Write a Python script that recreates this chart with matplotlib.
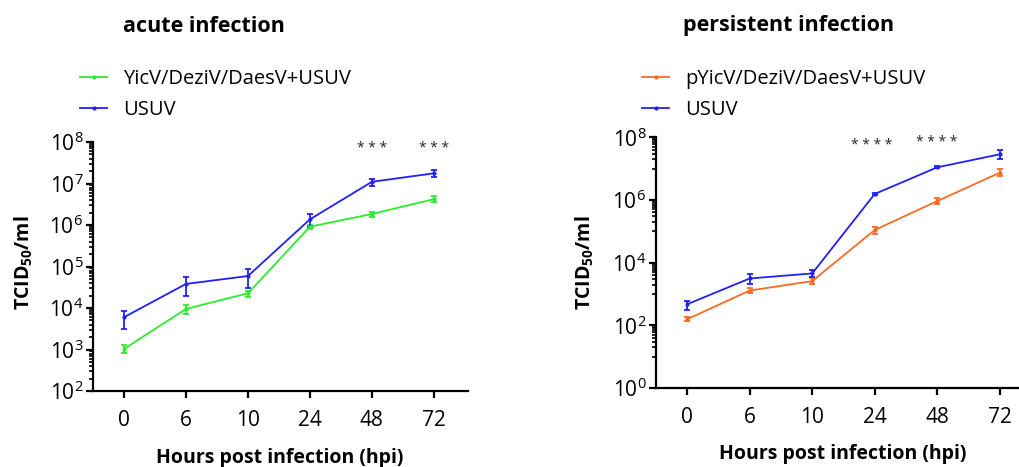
import matplotlib
matplotlib.use('Agg')
import matplotlib.pyplot as plt
import matplotlib.ticker as mticker
from matplotlib.lines import Line2D
import numpy as np

plt.rcParams['font.family'] = ['Open Sans', 'DejaVu Sans']
plt.rcParams['mathtext.fontset'] = 'custom'
plt.rcParams['mathtext.rm'] = 'Open Sans'
plt.rcParams['mathtext.bf'] = 'Open Sans:bold'
plt.rcParams['mathtext.it'] = 'Open Sans:italic'

# time points (categorical)
hpi = ['0', '6', '10', '24', '48', '72']

# acute infection, TCID50/ml
acute_mix = [1030, 9500, 22600, 9.1e5, 1.84e6, 4.2e6]
acute_mix_lo = [810, 7200, 18600, 8.1e5, 1.6e6, 3.55e6]
acute_mix_hi = [1310, 12000, 26300, 1.02e6, 2.1e6, 4.9e6]
acute_usuv = [6000, 38000, 59000, 1.37e6, 1.1e7, 1.76e7]
acute_usuv_lo = [3100, 19500, 30000, 9.2e5, 8.7e6, 1.45e7]
acute_usuv_hi = [8700, 56000, 87000, 1.8e6, 1.3e7, 2.1e7]

# persistent infection, TCID50/ml
pers_mix = [157, 1290, 2570, 1.1e5, 9.2e5, 7.4e6]
pers_mix_lo = [133, 1050, 2040, 8.5e4, 7.4e5, 5.75e6]
pers_mix_hi = [185, 1550, 3160, 1.38e5, 1.12e6, 9.5e6]
pers_usuv = [472, 3130, 4520, 1.55e6, 1.1e7, 2.86e7]
pers_usuv_lo = [316, 2040, 3550, 1.4e6, 1.02e7, 2.0e7]
pers_usuv_hi = [600, 4260, 6030, 1.7e6, 1.18e7, 4.0e7]

# significance marks: (time index, y value, text)
acute_stars = [(4, 6.8e7, '* * *'), (5, 6.8e7, '* * *')]
pers_stars = [(2.95, 5.3e7, '* * * *'), (4, 6.6e7, '* * * *')]

GREEN = '#2bee2b'
BLUE = '#2020ff'
ORANGE = '#ff6a22'

W, H = 1019, 467
fig = plt.figure(figsize=(W / 100, H / 100), dpi=100)


def px(x0, y0, x1, y1):
    # pixel box -> figure fraction [left, bottom, width, height]
    return [x0 / W, 1 - y1 / H, (x1 - x0) / W, (y1 - y0) / H]


def draw(ax, series, ymin, ymax):
    x = np.arange(len(hpi))
    handles = []
    for vals, lo, hi, col, lab in series:
        vals = np.array(vals)
        err = [vals - np.array(lo), np.array(hi) - vals]
        ax.errorbar(x, vals, yerr=err, color=col, lw=1.3, marker='o', ms=2,
                    capsize=2.5, capthick=1.3, elinewidth=1.3)
        handles.append(Line2D([], [], color=col, lw=1.3, marker='o', ms=2, label=lab))
    ax.set_yscale('log')
    ax.set_ylim(ymin, ymax)
    ax.set_xlim(-0.5, 5.55)
    ax.set_xticks(x)
    ax.set_xticklabels(hpi)
    for s in ['top', 'right']:
        ax.spines[s].set_visible(False)
    for s in ['left', 'bottom']:
        ax.spines[s].set_linewidth(1.6)
    ax.tick_params(axis='both', which='major', width=1.6, length=5, labelsize=15)
    ax.tick_params(axis='y', which='minor', width=1.2, length=3)
    ax.tick_params(axis='x', pad=9)
    ax.tick_params(axis='y', pad=2)
    ax.set_facecolor('none')
    return handles


ax1 = fig.add_axes(px(93, 142, 468, 391))
h1 = draw(ax1, [(acute_mix, acute_mix_lo, acute_mix_hi, GREEN, 'YicV/DeziV/DaesV+USUV'),
                (acute_usuv, acute_usuv_lo, acute_usuv_hi, BLUE, 'USUV')], 1e2, 1e8)
ax1.yaxis.set_major_locator(mticker.LogLocator(base=10, numticks=20))
ax1.yaxis.set_minor_locator(mticker.LogLocator(base=10, subs=np.arange(2, 10), numticks=20))
ax1.yaxis.set_minor_formatter(mticker.NullFormatter())

ax2 = fig.add_axes(px(656, 137.3, 1034, 388))
h2 = draw(ax2, [(pers_mix, pers_mix_lo, pers_mix_hi, ORANGE, 'pYicV/DeziV/DaesV+USUV'),
                (pers_usuv, pers_usuv_lo, pers_usuv_hi, BLUE, 'USUV')], 1e0, 1e8)
ax2.yaxis.set_major_locator(mticker.LogLocator(base=100, numticks=20))
ax2.yaxis.set_minor_locator(mticker.LogLocator(base=100, subs=np.arange(10, 100, 10), numticks=20))
ax2.yaxis.set_minor_formatter(mticker.NullFormatter())

# significance stars
for ax, marks in [(ax1, acute_stars), (ax2, pers_stars)]:
    for i, yv, s in marks:
        ax.text(i, yv, s, ha='center', va='center', fontsize=10, color='#222222')

# titles
fig.text(123 / W, 1 - 26 / H, 'acute infection', fontsize=15.5, fontweight='bold',
         ha='left', va='center')
fig.text(683 / W, 1 - 26 / H, 'persistent infection', fontsize=15.5, fontweight='bold',
         ha='left', va='center')

# legends
for hs, x0 in [(h1, 80), (h2, 642)]:
    fig.legend(handles=hs, loc='upper left', bbox_to_anchor=(x0 / W, 1 - 69 / H),
               frameon=False, fontsize=14.5, handlelength=1.35, handletextpad=0.8,
               labelspacing=0.55, borderpad=0, borderaxespad=0)

# axis labels
ylab = r'TCID$_{\mathbf{50}}$/ml'
fig.text(23 / W, 1 - 263 / H, ylab, rotation=90, fontsize=14, fontweight='bold',
         ha='center', va='center')
fig.text(584 / W, 1 - 263 / H, ylab, rotation=90, fontsize=14, fontweight='bold',
         ha='center', va='center')
fig.text(280 / W, 1 - 448 / H, 'Hours post infection (hpi)', fontsize=14,
         fontweight='bold', ha='center', va='top')
fig.text(843 / W, 1 - 444 / H, 'Hours post infection (hpi)', fontsize=14,
         fontweight='bold', ha='center', va='top')

fig.savefig('out.png', dpi=100)
